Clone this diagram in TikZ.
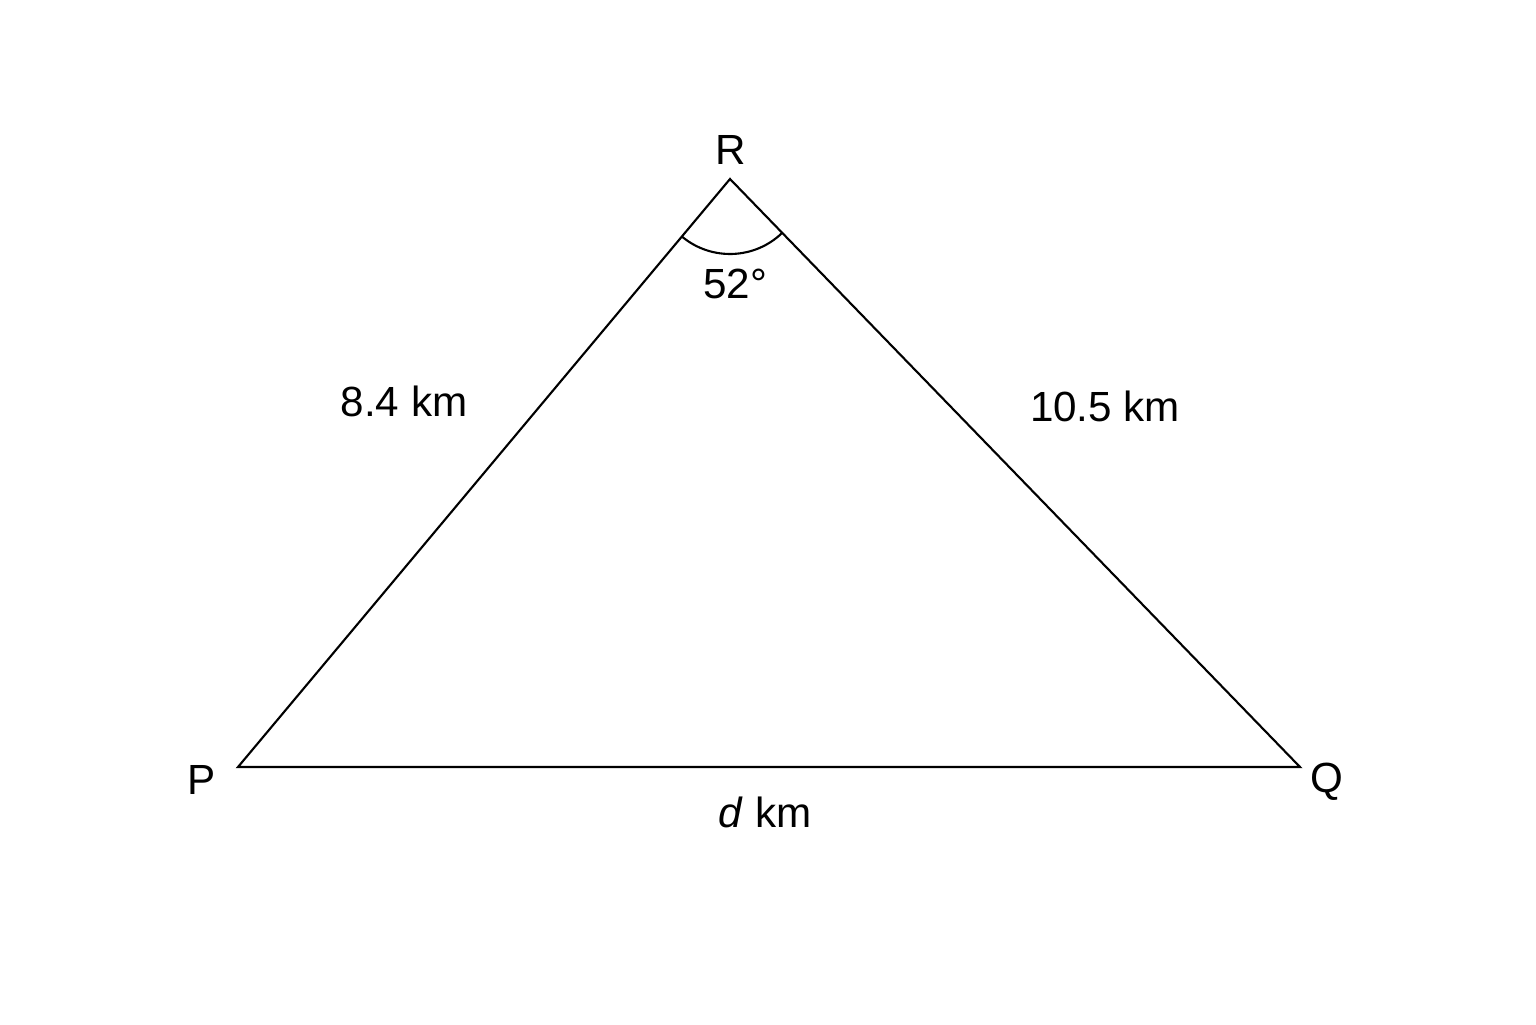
\documentclass[tikz,border=0pt]{standalone}
\usepackage{fontspec}
\setmainfont{Liberation Sans}
\tikzset{
    side/.style={line width=0.6pt},
    lbl/.style={font=\fontsize{12}{14}\selectfont, inner sep=0pt}
}
\begin{document}
\begin{tikzpicture}
    \useasboundingbox (0, 0) rectangle (15.36, 10.24);
    \coordinate (P) at (2.38, 2.57);
    \coordinate (Q) at (13.00, 2.57);
    \coordinate (R) at (7.30, 8.45);
    \draw[side] (P) -- (Q) -- (R) -- cycle;
    \draw[side] ([shift={(230.1:0.75)}]R) arc[start angle=230.1, end angle=314.1, radius=0.75];
    \node[lbl] (labR) at (7.31, 8.74) {R};
    \node[lbl] (labP) at (2.02, 2.44) {P};
    \node[lbl] (labQ) at (13.27, 2.42) {Q};
    \node[lbl] (angR) at (7.35, 7.40) {52°};
    \node[lbl] (sidePR) at (4.04, 6.23) {8.4 km};
    \node[lbl] (sideQR) at (11.05, 6.18) {10.5 km};
    \node[lbl] (sidePQ) at (7.65, 2.12) {\textit{d} km};
\end{tikzpicture}
\end{document}
